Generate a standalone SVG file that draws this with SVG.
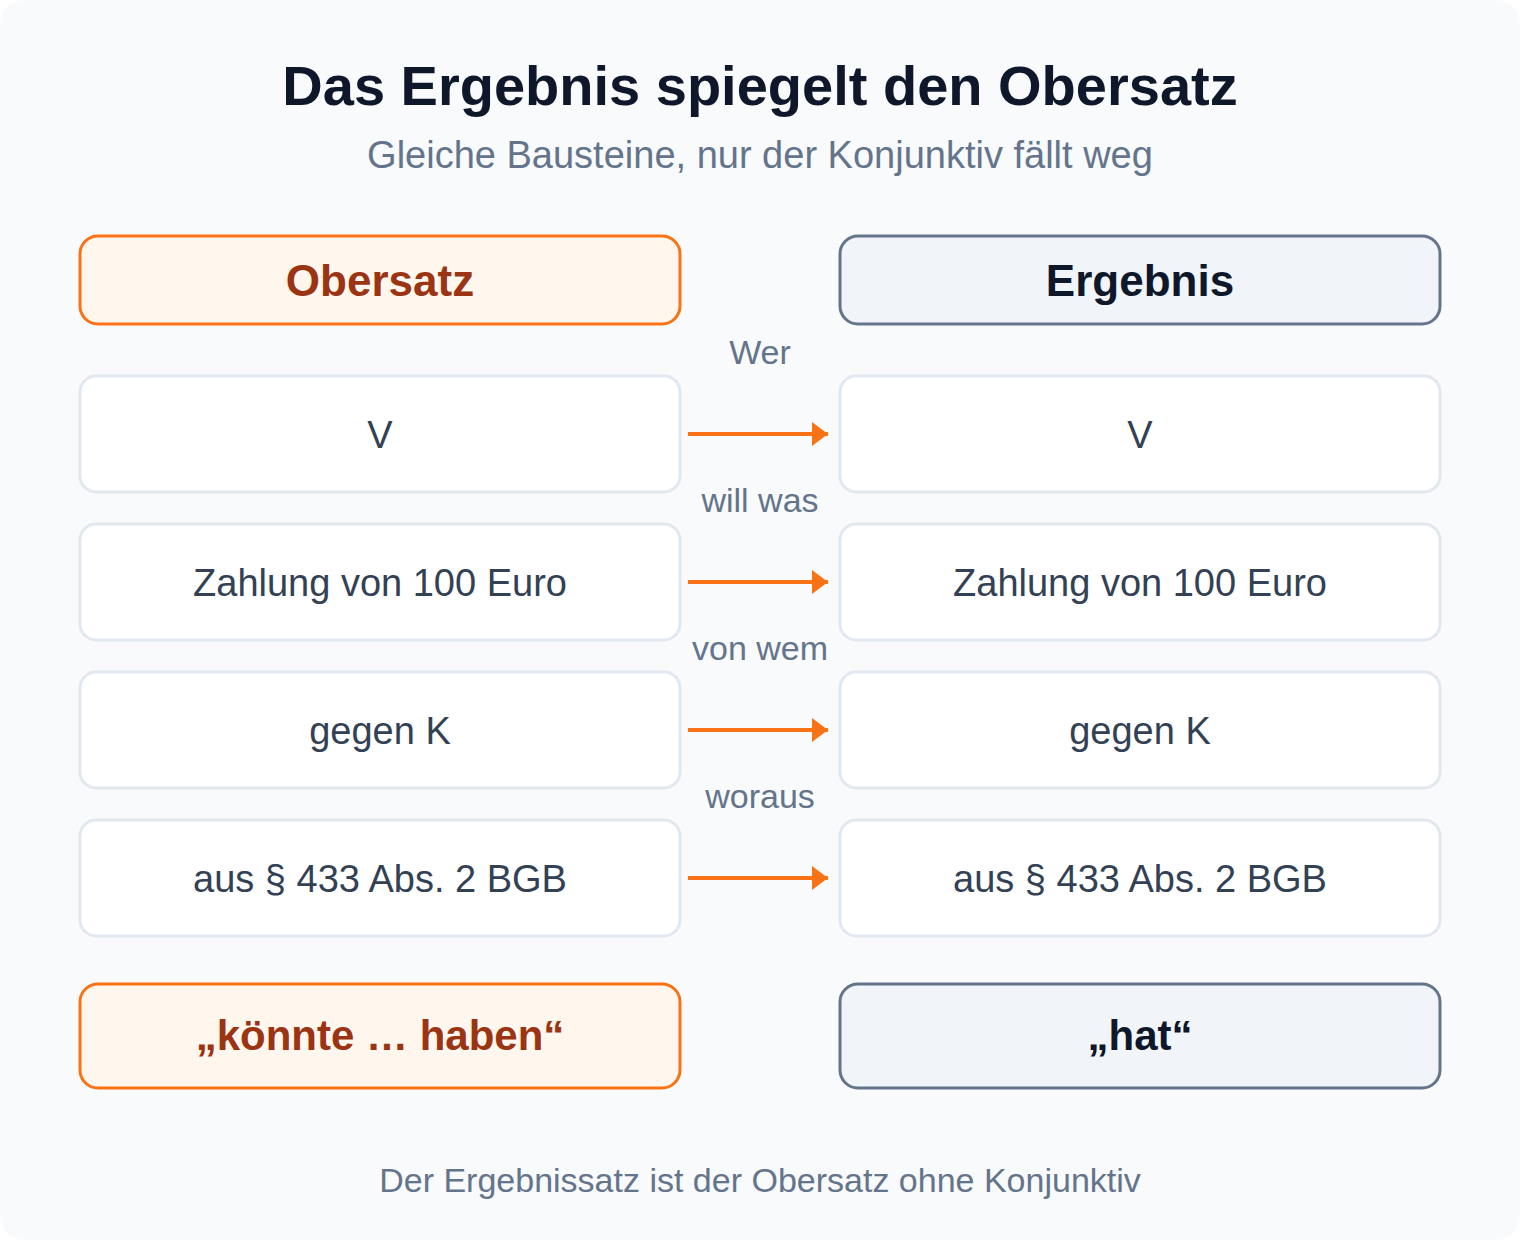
<svg xmlns="http://www.w3.org/2000/svg" width="1520" height="1240" viewBox="0 0 1520 1240">
<defs>
<marker id="ah" markerWidth="16" markerHeight="24" viewBox="0 0 16 24" refX="16" refY="12" orient="auto" markerUnits="userSpaceOnUse">
<path d="M0,0 L16,12 L0,24 Z" fill="#f97316"/>
</marker>
<style>
text{font-family:"Liberation Sans",Arial,sans-serif;text-anchor:middle}
.title{font-size:56px;font-weight:bold;fill:#0f172a}
.sub{font-size:38px;fill:#64748b}
.hl{fill:#fff7ed;stroke:#f97316;stroke-width:3}
.hr{fill:#f1f5f9;stroke:#64748b;stroke-width:3}
.tl{font-size:44px;font-weight:bold;fill:#9a3412}
.tr{font-size:44px;font-weight:bold;fill:#0f172a}
.fs{font-size:42px}
.row{fill:#ffffff;stroke:#e2e8f0;stroke-width:3}
.rt{font-size:38px;fill:#334155}
.lab{font-size:34px;fill:#64748b}
.foot{font-size:34px;fill:#64748b}
.arr{stroke:#f97316;stroke-width:4;fill:none}
</style>
</defs>
<rect x="0" y="0" width="1520" height="1240" rx="24" fill="#f8fafc"/>
<text class="title" x="760" y="105">Das Ergebnis spiegelt den Obersatz</text>
<text class="sub" x="760" y="168">Gleiche Bausteine, nur der Konjunktiv fällt weg</text>

<g id="head-obersatz"><rect class="hl" x="80" y="236" width="600" height="88" rx="18"/><text class="tl" x="380" y="296">Obersatz</text></g>
<g id="head-ergebnis"><rect class="hr" x="840" y="236" width="600" height="88" rx="18"/><text class="tr" x="1140" y="296">Ergebnis</text></g>

<g id="l1"><rect class="row" x="80" y="376" width="600" height="116" rx="16"/><text class="rt" x="380" y="448">V</text></g>
<g id="r1"><rect class="row" x="840" y="376" width="600" height="116" rx="16"/><text class="rt" x="1140" y="448">V</text></g>
<g id="l2"><rect class="row" x="80" y="524" width="600" height="116" rx="16"/><text class="rt" x="380" y="596">Zahlung von 100 Euro</text></g>
<g id="r2"><rect class="row" x="840" y="524" width="600" height="116" rx="16"/><text class="rt" x="1140" y="596">Zahlung von 100 Euro</text></g>
<g id="l3"><rect class="row" x="80" y="672" width="600" height="116" rx="16"/><text class="rt" x="380" y="744">gegen K</text></g>
<g id="r3"><rect class="row" x="840" y="672" width="600" height="116" rx="16"/><text class="rt" x="1140" y="744">gegen K</text></g>
<g id="l4"><rect class="row" x="80" y="820" width="600" height="116" rx="16"/><text class="rt" x="380" y="892">aus § 433 Abs. 2 BGB</text></g>
<g id="r4"><rect class="row" x="840" y="820" width="600" height="116" rx="16"/><text class="rt" x="1140" y="892">aus § 433 Abs. 2 BGB</text></g>

<g id="connectors">
<line class="arr" x1="688" y1="434" x2="828" y2="434" marker-end="url(#ah)"/>
<line class="arr" x1="688" y1="582" x2="828" y2="582" marker-end="url(#ah)"/>
<line class="arr" x1="688" y1="730" x2="828" y2="730" marker-end="url(#ah)"/>
<line class="arr" x1="688" y1="878" x2="828" y2="878" marker-end="url(#ah)"/>
<text class="lab" x="760" y="364">Wer</text>
<text class="lab" x="760" y="512">will was</text>
<text class="lab" x="760" y="660">von wem</text>
<text class="lab" x="760" y="808">woraus</text>
</g>

<g id="foot-obersatz"><rect class="hl" x="80" y="984" width="600" height="104" rx="18"/><text class="tl fs" x="380" y="1050">„könnte … haben“</text></g>
<g id="foot-ergebnis"><rect class="hr" x="840" y="984" width="600" height="104" rx="18"/><text class="tr fs" x="1140" y="1050">„hat“</text></g>

<text class="foot" x="760" y="1192">Der Ergebnissatz ist der Obersatz ohne Konjunktiv</text>
</svg>
